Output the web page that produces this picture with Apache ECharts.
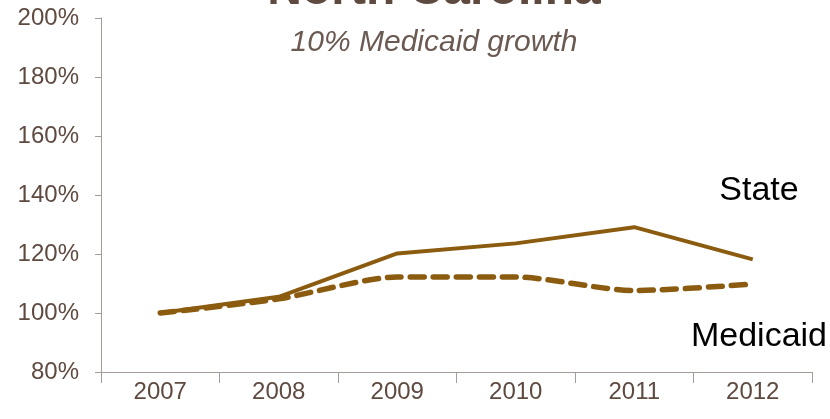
<!DOCTYPE html>
<html>
<head>
<meta charset="utf-8">
<script src="https://cdn.jsdelivr.net/npm/echarts@6/dist/echarts.min.js"></script>
<style>
html, body { margin: 0; padding: 0; background: #fff; }
#chart { width: 830px; height: 419px; }
</style>
</head>
<body>
<div id="chart"></div>
<script>
// data
var years = ['2007', '2008', '2009', '2010', '2011', '2012'];
var stateVals = [100, 105.5, 120.2, 123.6, 129.1, 118.2];
var medicaidVals = [100, 104.8, 112.2, 112.2, 107.6, 109.8];
var yTicks = [80, 100, 120, 140, 160, 180, 200];

var lineColor = '#8b5c10';
var textColor = '#5e4a40';

var chartDom = document.getElementById('chart');
var myChart = echarts.init(chartDom);

var option = {
    animation: false,
    grid: { left: 101, right: 18, top: 18, bottom: 47 },
    xAxis: {
        type: 'category',
        data: years,
        boundaryGap: true,
        axisLine: { lineStyle: { color: '#a39c99', width: 1 } },
        axisTick: { show: true, length: 11, lineStyle: { color: '#a39c99' } },
        axisLabel: { color: textColor, fontFamily: 'Liberation Sans', fontSize: 24, margin: 8 }
    },
    yAxis: {
        type: 'value',
        min: yTicks[0],
        max: yTicks[yTicks.length - 1],
        interval: 20,
        axisLine: { show: true, lineStyle: { color: '#a39c99', width: 1 } },
        axisTick: { show: true, length: 6, lineStyle: { color: '#a39c99' } },
        splitLine: { show: false },
        axisLabel: {
            color: textColor, fontFamily: 'Liberation Sans', fontSize: 24, margin: 22,
            formatter: function (v) { return v + '%'; }
        }
    },
    series: [
        {
            name: 'State',
            type: 'line',
            data: stateVals,
            symbol: 'none',
            lineStyle: { color: lineColor, width: 4 }
        },
        {
            name: 'Medicaid',
            type: 'line',
            data: medicaidVals,
            symbol: 'none',
            smooth: 0.25,
            lineStyle: { color: lineColor, width: 5.5, type: [14, 9], cap: 'round' }
        }
    ],
    graphic: [
        {
            type: 'text', x: 434, y: -9,
            style: {
                text: 'North Carolina', align: 'center', verticalAlign: 'middle',
                font: 'bold 48px "Liberation Sans"', fill: '#5f4a40'
            }
        },
        {
            type: 'text', x: 434, y: 43,
            style: {
                text: '10% Medicaid growth', align: 'center', verticalAlign: 'middle',
                font: 'italic 30px "Liberation Sans"', fill: '#6b5a52'
            }
        },
        {
            type: 'text', x: 759, y: 191,
            style: {
                text: 'State', align: 'center', verticalAlign: 'middle',
                font: '34px "Liberation Sans"', fill: '#000'
            }
        },
        {
            type: 'text', x: 759, y: 337,
            style: {
                text: 'Medicaid', align: 'center', verticalAlign: 'middle',
                font: '34px "Liberation Sans"', fill: '#000'
            }
        }
    ]
};

myChart.setOption(option);

window.onresize = function () {
    myChart.resize();
};
</script>
</body>
</html>
